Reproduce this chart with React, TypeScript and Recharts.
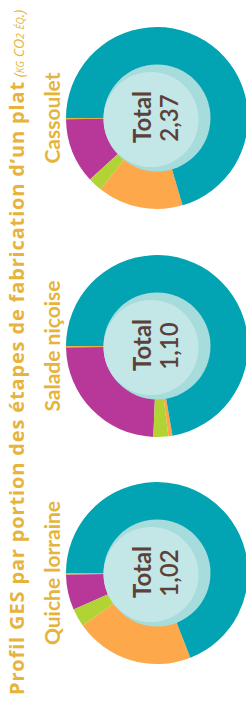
import { PieChart, Pie, Cell } from "recharts";

// dishes, left to right in the original (bottom to top on the page)
const dishes = ["Quiche lorraine", "Salade niçoise", "Cassoulet"];
const totals = ["1,02", "1,10", "2,37"];

// steps of the profile, in drawing order
const steps = ["etape5", "etape4", "etape3", "etape2", "etape1"];

// kg CO2 eq. per portion, same order as steps
const quiche = [0.003, 0.064, 0.033, 0.216, 0.704];
const salade = [0.003, 0.265, 0.029, 0.008, 0.795];
const cassoulet = [0.005, 0.275, 0.06, 0.36, 1.67];

const series = [quiche, salade, cassoulet];

const COLORS = ["#e8b43e", "#b8389a", "#b2d334", "#fda84b", "#02a3b3"];
const GOLD = "#e6b43c";
const BROWN = "#5b4139";
const FONT = "Lato, 'Open Sans', sans-serif";
const TITLE_FONT = "'Open Sans', Lato, sans-serif";

const W = 246;
const H = 706;
const CX = 157;
const CY = [573, 346, 118];

const build = (vals: number[]) => steps.map((s, i) => ({ name: s, value: vals[i] }));

export default function App() {
  return (
    <div style={{ position: "absolute", left: 0, top: 0, width: W, height: H, background: "#fff" }}>
      <PieChart width={W} height={H} margin={{ top: 0, right: 0, bottom: 0, left: 0 }}>
        {series.map((vals, i) => (
          <Pie
            key={dishes[i]}
            data={build(vals)}
            dataKey="value"
            nameKey="name"
            cx={CX}
            cy={CY[i]}
            innerRadius={52}
            outerRadius={91}
            startAngle={180}
            endAngle={540}
            stroke="none"
            isAnimationActive={false}
          >
            {steps.map((s, j) => (
              <Cell key={s} fill={COLORS[j]} />
            ))}
          </Pie>
        ))}
      </PieChart>

      <svg width={W} height={H} style={{ position: "absolute", left: 0, top: 0 }} fontFamily={FONT}>
        {/* title */}
        <text
          x={24}
          y={695}
          transform="rotate(-90 24 695)"
          fill={GOLD}
          fontFamily={TITLE_FONT}
          fontSize={20}
          fontWeight={700}
          letterSpacing={0.85}
        >
          Profil GES par portion des étapes de fabrication d’un plat
          <tspan
            fontStyle="italic"
            fontWeight={400}
            fontSize={14}
            letterSpacing={0}
            style={{ fontVariant: "small-caps" }}
          >
            {" (kg CO"}
            <tspan fontSize={10.5}>2</tspan>
            {" éq.)"}
          </tspan>
        </text>

        {dishes.map((d, i) => {
          const cy = CY[i];
          return (
            <g key={d}>
              <text
                x={60}
                y={cy}
                transform={`rotate(-90 60 ${cy})`}
                textAnchor="middle"
                fill={GOLD}
                fontSize={21}
                fontWeight={700}
              >
                {d}
              </text>
              <circle cx={CX} cy={cy} r={53.5} fill="#a7dcdc" />
              <circle cx={CX - 6} cy={cy + 1.5} r={47.5} fill="#c3e7e6" />
              <text
                x={CX - 6}
                y={cy - 1}
                transform={`rotate(-90 ${CX - 6} ${cy - 1})`}
                textAnchor="middle"
                fill={BROWN}
                fontSize={24}
                fontWeight={700}
              >
                Total
              </text>
              <text
                x={CX + 21}
                y={cy}
                transform={`rotate(-90 ${CX + 21} ${cy})`}
                textAnchor="middle"
                fill={BROWN}
                fontSize={24}
                fontWeight={600}
              >
                {totals[i]}
              </text>
            </g>
          );
        })}
      </svg>
    </div>
  );
}
